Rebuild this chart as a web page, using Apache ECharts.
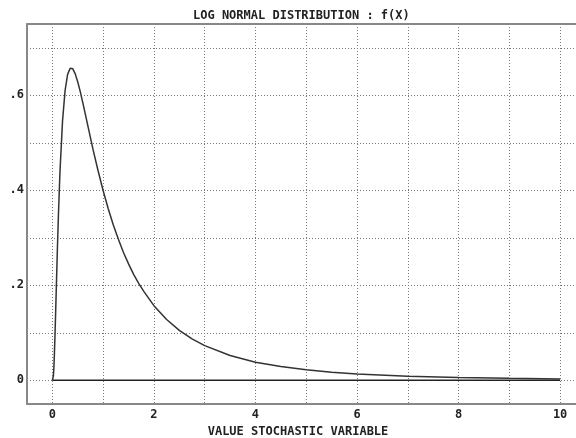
<!DOCTYPE html>
<html>
<head>
<meta charset="utf-8">
<script src="https://cdn.jsdelivr.net/npm/echarts@6/dist/echarts.min.js"></script>
<style>
  html, body { margin: 0; padding: 0; background: #fff; }
  #chart { width: 576px; height: 438px; }
</style>
</head>
<body>
<div id="chart"></div>
<script>
// values
const xValues = [0, 0.01, 0.02, 0.03, 0.04, 0.05, 0.06, 0.08, 0.1, 0.12, 0.15, 0.2, 0.25, 0.3, 0.35, 0.4,
  0.45, 0.5, 0.55, 0.6, 0.7, 0.8, 0.9, 1, 1.1, 1.2, 1.3, 1.4, 1.5, 1.6, 1.7, 1.8, 2, 2.25, 2.5,
  2.75, 3, 3.5, 4, 4.5, 5, 5.5, 6, 7, 8, 9, 10]
const fValues = [0, 0.001, 0.0095, 0.028, 0.056, 0.090, 0.127, 0.205, 0.282, 0.351, 0.440, 0.546, 0.610, 0.644, 0.657, 0.656,
  0.645, 0.628, 0.607, 0.584, 0.535, 0.486, 0.441, 0.399, 0.361, 0.327, 0.297, 0.269, 0.245, 0.223, 0.204, 0.187, 0.157, 0.128, 0.105,
  0.087, 0.073, 0.052, 0.038, 0.029, 0.022, 0.017, 0.013, 0.0086, 0.0057, 0.0040, 0.0028]
const baseX = [0, 10]
const baseY = [0, 0]

const xTickLabels = [0, 2, 4, 6, 8, 10]
const yTickValues = [0, 0.2, 0.4, 0.6]
const yTickLabels = ['0', '.2', '.4', '.6']

const curve = xValues.map((x, i) => [x, fValues[i]])
const baseline = baseX.map((x, i) => [x, baseY[i]])

const font = 'DejaVu Sans Mono'
const ink = '#222'
const frame = { show: true, onZero: false, lineStyle: { color: '#888', width: 2 } }
// every second split line is hidden so the dots fall on whole steps
const gridDots = {
  show: true,
  showMaxLine: false,
  lineStyle: { color: ['transparent', '#777'], type: [1, 2], width: 1 }
}

const chart = echarts.init(document.getElementById('chart'))
chart.setOption({
  backgroundColor: '#fff',
  animation: false,
  title: {
    text: 'LOG NORMAL DISTRIBUTION : f(X)',
    left: 188,
    top: 5,
    textStyle: { fontFamily: font, fontSize: 12, fontWeight: 'bold', color: ink }
  },
  grid: {
    left: 27,
    top: 24,
    right: -10,
    bottom: 34,
    outerBoundsMode: 'none'
  },
  xAxis: [
    {
      type: 'value',
      min: -0.5,
      max: 10.51,
      interval: 0.5,
      name: 'VALUE STOCHASTIC VARIABLE',
      nameLocation: 'middle',
      nameGap: 22,
      nameTextStyle: { fontFamily: font, fontSize: 12, fontWeight: 'bold', color: ink, padding: [0, 17, 0, 0] },
      axisLine: frame,
      axisTick: { show: false },
      axisLabel: {
        customValues: xTickLabels,
        margin: 5,
        fontFamily: font,
        fontSize: 12,
        fontWeight: 'bold',
        color: ink
      },
      splitLine: gridDots
    },
    {
      type: 'value',
      position: 'top',
      min: -0.5,
      max: 10.51,
      axisLine: frame,
      axisTick: { show: false },
      axisLabel: { show: false },
      splitLine: { show: false }
    }
  ],
  yAxis: {
    type: 'value',
    min: -0.05,
    max: 0.75,
    interval: 0.05,
    axisLine: frame,
    axisTick: { show: false },
    axisLabel: {
      customValues: yTickValues,
      margin: 3,
      fontFamily: font,
      fontSize: 12,
      fontWeight: 'bold',
      color: ink,
      formatter: (v) => {
        const i = yTickValues.findIndex(t => Math.abs(t - v) < 1e-6)
        return i >= 0 ? yTickLabels[i] : ''
      }
    },
    splitLine: gridDots
  },
  series: [
    {
      type: 'line',
      data: baseline,
      symbol: 'none',
      silent: true,
      lineStyle: { color: ink, width: 1.5 }
    },
    {
      type: 'line',
      data: curve,
      symbol: 'none',
      silent: true,
      lineStyle: { color: '#333', width: 1.5 }
    }
  ]
})
</script>
</body>
</html>
